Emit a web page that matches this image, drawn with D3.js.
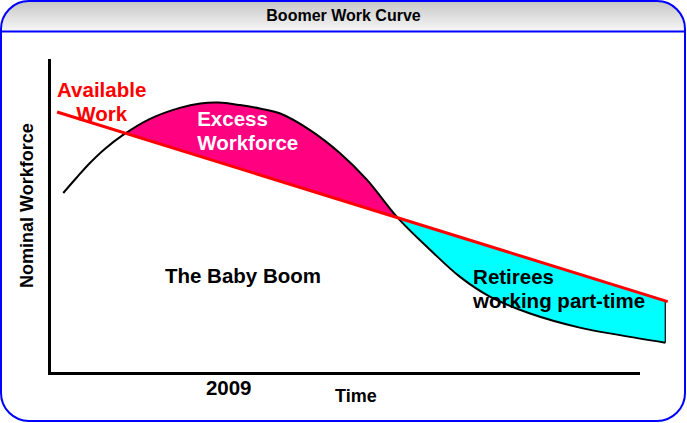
<!DOCTYPE html>
<html>
<head>
<meta charset="utf-8">
<script src="https://cdn.jsdelivr.net/npm/d3@7"></script>
<style>
  body { margin: 0; background: #fff; }
  svg { display: block; }
</style>
</head>
<body>
<script>
// chart values (time in abstract units, workforce in nominal units)
var curveTime = [2.3, 4.4, 6.6, 9.0, 11.9, 16.3, 21.1, 24.4, 27.3, 30.8, 34.0, 37.3,
  42.1, 46.9, 51.3, 56.1, 61.5, 66.3, 71.1, 77.6, 85.6, 92.1, 99.4];
var workforce = [57.5, 62.3, 67.1, 71.6, 76.0, 81.2, 84.7, 86.1, 86.4, 85.6, 84.5, 82.9,
  77.6, 70.3, 61.7, 49.9, 39.3, 30.7, 24.4, 19.0, 14.5, 12.1, 9.7];
var workTime = [1.3, 99.8];
var availableWork = [83.4, 22.8];
var tickTimes = [28.9];
var tickLabels = ["2009"];

var svgWidth = 687, svgHeight = 423;
var font = "'Liberation Sans', Arial, sans-serif";

var svg = d3.select("body").append("svg")
  .attr("width", svgWidth)
  .attr("height", svgHeight)
  .attr("font-family", font)
  .attr("font-weight", "bold");

// scales
var x = d3.scaleLinear().domain([0, 100]).range([49, 669]);
var y = d3.scaleLinear().domain([0, 100]).range([373, 60]);

var boomData = curveTime.map(function(t, i) { return { t: t, v: workforce[i] }; });
var workData = workTime.map(function(t, i) { return { t: t, v: availableWork[i] }; });
var lineAt = d3.scaleLinear().domain(workTime).range(availableWork);

// frame and header
var defs = svg.append("defs");
var grad = defs.append("linearGradient").attr("id", "hdr")
  .attr("x1", 0).attr("y1", 0).attr("x2", 0).attr("y2", 1);
grad.append("stop").attr("offset", "0%").attr("stop-color", "#c6c6c6");
grad.append("stop").attr("offset", "100%").attr("stop-color", "#f8f8f8");

defs.append("clipPath").attr("id", "frameClip")
  .append("rect")
  .attr("x", 1).attr("y", 1).attr("width", 684).attr("height", 420)
  .attr("rx", 28).attr("ry", 28);

svg.append("rect")
  .attr("x", 1).attr("y", 1).attr("width", 684).attr("height", 31)
  .attr("fill", "url(#hdr)")
  .attr("clip-path", "url(#frameClip)");

svg.append("line")
  .attr("x1", 1).attr("x2", 685).attr("y1", 31.5).attr("y2", 31.5)
  .attr("stroke", "#0000ff").attr("stroke-width", 2);

svg.append("rect")
  .attr("x", 1).attr("y", 1).attr("width", 684).attr("height", 420)
  .attr("rx", 28).attr("ry", 28)
  .attr("fill", "none")
  .attr("stroke", "#0000ff").attr("stroke-width", 2);

svg.append("text")
  .attr("x", svgWidth / 2).attr("y", 21)
  .attr("text-anchor", "middle")
  .attr("font-size", 16)
  .attr("fill", "#000")
  .text("Boomer Work Curve");

// areas used to build the two shaded regions
var smooth = d3.curveCatmullRom.alpha(0.5);

var belowCurve = d3.area().curve(smooth)
  .x(function(d) { return x(d.t); })
  .y0(y(-20))
  .y1(function(d) { return y(d.v); });

var aboveCurve = d3.area().curve(smooth)
  .x(function(d) { return x(d.t); })
  .y0(y(130))
  .y1(function(d) { return y(d.v); });

var aboveLine = d3.area()
  .x(function(d) { return x(d.t); })
  .y0(y(130))
  .y1(function(d) { return y(d.v); });

var belowLine = d3.area()
  .x(function(d) { return x(d.t); })
  .y0(y(-20))
  .y1(function(d) { return y(d.v); });

defs.append("clipPath").attr("id", "underCurve")
  .append("path").attr("d", belowCurve(boomData));
defs.append("clipPath").attr("id", "overCurve")
  .append("path").attr("d", aboveCurve(boomData));

var g = svg.append("g");

// excess workforce: above the work line and under the boom curve
g.append("path")
  .attr("d", aboveLine(workData))
  .attr("fill", "#ff0080")
  .attr("clip-path", "url(#underCurve)");

// retirees: under the work line and above the boom curve, after the peak
var peak = boomData[d3.maxIndex(boomData, function(d) { return d.v; })];
var retireData = [
  { t: peak.t, v: lineAt(peak.t) },
  workData[workData.length - 1]
];
g.append("path")
  .attr("d", belowLine(retireData))
  .attr("fill", "#00ffff")
  .attr("clip-path", "url(#overCurve)");

// close the cyan region on the right
var last = boomData[boomData.length - 1];
g.append("line")
  .attr("x1", x(last.t)).attr("x2", x(last.t))
  .attr("y1", y(lineAt(last.t))).attr("y2", y(last.v))
  .attr("stroke", "#000").attr("stroke-width", 1.2);

// boom curve
g.append("path")
  .datum(boomData)
  .attr("fill", "none")
  .attr("stroke", "#000")
  .attr("stroke-width", 2)
  .attr("d", d3.line().curve(smooth)
    .x(function(d) { return x(d.t); })
    .y(function(d) { return y(d.v); }));

// available work line
g.append("path")
  .datum(workData)
  .attr("fill", "none")
  .attr("stroke", "#ff0000")
  .attr("stroke-width", 3)
  .attr("d", d3.line()
    .x(function(d) { return x(d.t); })
    .y(function(d) { return y(d.v); }));

// axes
var xAxisScale = d3.scaleLinear().domain([0, 95]).range([x(0), x(95)]);

var xAxis = svg.append("g")
  .attr("transform", "translate(0," + y(0) + ")")
  .call(d3.axisBottom(xAxisScale)
    .tickValues(tickTimes)
    .tickFormat(function(d, i) { return tickLabels[i]; })
    .tickSize(0)
    .tickPadding(7.5));
xAxis.select(".domain").attr("stroke", "#000").attr("stroke-width", 3)
  .attr("stroke-linecap", "square");
xAxis.selectAll("text")
  .attr("font-family", font).attr("font-weight", "bold")
  .attr("font-size", 20.5).attr("fill", "#000");

var yAxis = svg.append("g")
  .attr("transform", "translate(" + x(0) + ",0)")
  .call(d3.axisLeft(y).tickValues([]).tickSize(0));
yAxis.select(".domain").attr("stroke", "#000").attr("stroke-width", 3)
  .attr("stroke-linecap", "square");

svg.append("text")
  .attr("x", x(49.5)).attr("y", y(0) + 28.5)
  .attr("text-anchor", "middle")
  .attr("font-size", 18)
  .text("Time");

svg.append("text")
  .attr("transform", "translate(33," + y(53.5) + ") rotate(-90)")
  .attr("text-anchor", "middle")
  .attr("font-size", 18)
  .text("Nominal Workforce");

// annotations
function label(t, v, lines, anchor, color, lh) {
  var txt = svg.append("text")
    .attr("x", x(t)).attr("y", y(v))
    .attr("text-anchor", anchor)
    .attr("font-size", 20.5)
    .attr("fill", color);
  lines.forEach(function(s, i) {
    txt.append("tspan")
      .attr("x", x(t))
      .attr("dy", i === 0 ? 0 : lh)
      .text(s);
  });
}

label(8.5, 88.2, ["Available", "Work"], "middle", "#ff0000", 24);
label(23.9, 78.9, ["Excess", "Workforce"], "start", "#ffffff", 23.5);
label(18.7, 28.8, ["The Baby Boom"], "start", "#000", 0);
label(68.4, 28.4, ["Retirees", "working part-time"], "start", "#000", 24);
</script>
</body>
</html>
